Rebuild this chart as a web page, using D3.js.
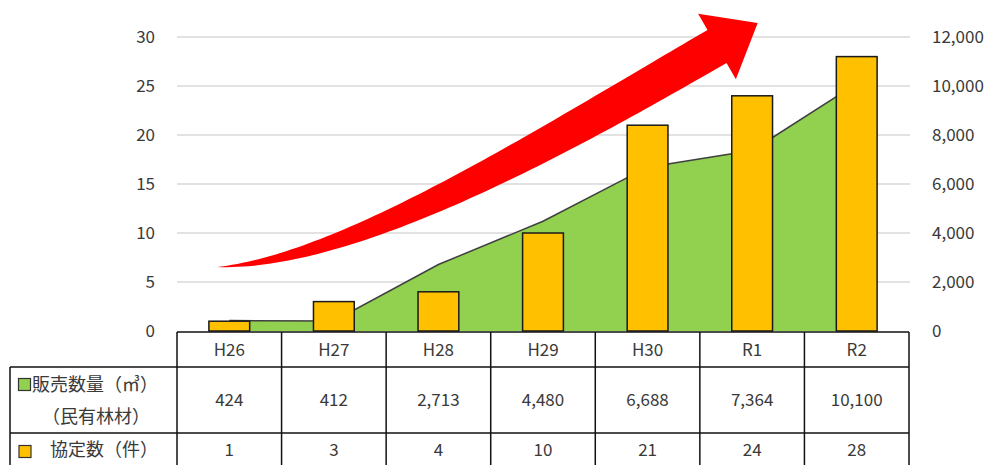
<!DOCTYPE html>
<html>
<head>
<meta charset="utf-8">
<script src="https://cdn.jsdelivr.net/npm/d3@7"></script>
<style>
  html, body { margin: 0; padding: 0; background: #fff; }
  svg { display: block; font-family: 'Noto Sans CJK JP', 'Noto Sans', sans-serif; }
</style>
</head>
<body>
<svg id="chart" width="995" height="465"></svg>
<script>
// ---- data ----
const categories = ["H26", "H27", "H28", "H29", "H30", "R1", "R2"];
const salesVolume = [424, 412, 2713, 4480, 6688, 7364, 10100];   // 販売数量（㎥）(民有林材) – right axis
const agreements = [1, 3, 4, 10, 21, 24, 28];                     // 協定数（件） – left axis
const leftTicks = [0, 5, 10, 15, 20, 25, 30];
const rightTicks = [0, 2000, 4000, 6000, 8000, 10000, 12000];
const salesLabelLines = ["販売数量（㎥）", "（民有林材）"];
const agreementLabel = "協定数（件）";

// ---- layout ----
const W = 995, H = 465;
const plotLeft = 177, plotRight = 909;
const plotTop = 37, plotBottom = 331;
const tableTop = 332, row1 = 367, row2 = 433, row3 = 499;
const labelColLeft = 10;
const textColor = "#3a3a3a";
const green = "#92D050", yellow = "#FFC000";

const svg = d3.select("#chart");

const x = d3.scaleBand().domain(categories).range([plotLeft, plotRight]).padding(0);
const yL = d3.scaleLinear().domain([0, 30]).range([plotBottom, plotTop]);
const yR = d3.scaleLinear().domain([0, 12000]).range([plotBottom, plotTop]);
const cx = c => x(c) + x.bandwidth() / 2;

// gridlines
svg.append("g").selectAll("line").data(leftTicks.filter(d => d > 0)).join("line")
  .attr("x1", plotLeft).attr("x2", plotRight + 1)
  .attr("y1", d => yL(d)).attr("y2", d => yL(d))
  .attr("stroke", "#d9d9d9").attr("stroke-width", 1.5);

// left axis labels
svg.append("g").selectAll("text").data(leftTicks).join("text")
  .attr("x", 155).attr("y", d => yL(d)).attr("dy", "0.36em")
  .attr("text-anchor", "end").attr("font-size", 17).attr("fill", textColor)
  .text(d => d);

// right axis labels
const fmt = d3.format(",");
svg.append("g").selectAll("text").data(rightTicks).join("text")
  .attr("x", 932).attr("y", d => yR(d)).attr("dy", "0.36em")
  .attr("text-anchor", "start").attr("font-size", 17).attr("fill", textColor)
  .text(d => fmt(d));

// area (sales volume)
const salesData = categories.map((c, i) => ({ c, v: salesVolume[i] }));
svg.append("path").datum(salesData)
  .attr("d", d3.area().x(d => cx(d.c)).y0(yR(0)).y1(d => yR(d.v)))
  .attr("fill", green);
svg.append("path").datum(salesData)
  .attr("d", d3.line().x(d => cx(d.c)).y(d => yR(d.v)))
  .attr("fill", "none").attr("stroke", "#404040").attr("stroke-width", 1.5);

// bars (agreements)
const bw = x.bandwidth() * 0.39;
svg.append("g").selectAll("rect").data(categories).join("rect")
  .attr("x", c => cx(c) - bw / 2)
  .attr("y", (c, i) => yL(agreements[i]))
  .attr("width", bw)
  .attr("height", (c, i) => yL(0) - yL(agreements[i]))
  .attr("fill", yellow).attr("stroke", "#1a1a1a").attr("stroke-width", 1.5);

// ---- red curved arrow (decoration) ----
(function () {
  const P0 = [217, 267], P1 = [350, 262], P2 = [557, 139], P3 = [717, 46.5];
  const bez = t => {
    const u = 1 - t;
    return [
      u*u*u*P0[0] + 3*u*u*t*P1[0] + 3*u*t*t*P2[0] + t*t*t*P3[0],
      u*u*u*P0[1] + 3*u*u*t*P1[1] + 3*u*t*t*P2[1] + t*t*t*P3[1]
    ];
  };
  const der = t => {
    const u = 1 - t;
    return [
      3*u*u*(P1[0]-P0[0]) + 6*u*t*(P2[0]-P1[0]) + 3*t*t*(P3[0]-P2[0]),
      3*u*u*(P1[1]-P0[1]) + 6*u*t*(P2[1]-P1[1]) + 3*t*t*(P3[1]-P2[1])
    ];
  };
  const maxW = 38;
  const up = [], lo = [];
  const N = 80;
  for (let i = 0; i <= N; i++) {
    const t = i / N;
    const p = bez(t), d = der(t);
    const len = Math.hypot(d[0], d[1]);
    const nx = d[1] / len, ny = -d[0] / len; // left normal (upwards)
    const hw = maxW / 2 * Math.sin(Math.PI * t / 2);
    up.push([p[0] + nx * hw, p[1] + ny * hw]);
    lo.push([p[0] - nx * hw, p[1] - ny * hw]);
  }
  const dEnd = der(1), L = Math.hypot(dEnd[0], dEnd[1]);
  const tx = dEnd[0] / L, ty = dEnd[1] / L;
  const nx = ty, ny = -tx;
  const headHalf = 37.7, headLen = 47;
  const barbUp = [P3[0] + nx * headHalf, P3[1] + ny * headHalf];
  const barbLo = [P3[0] - nx * headHalf, P3[1] - ny * headHalf];
  const tip = [P3[0] + tx * headLen, P3[1] + ty * headLen];
  const pts = up.concat([barbUp, tip, barbLo]).concat(lo.slice().reverse());
  svg.append("path")
    .attr("d", "M" + pts.map(p => p[0].toFixed(2) + "," + p[1].toFixed(2)).join("L") + "Z")
    .attr("fill", "#FF0000");
})();

// ---- data table ----
const tbl = svg.append("g").attr("stroke", "#111").attr("stroke-width", 1.5).attr("fill", "none");
// horizontal lines
tbl.append("line").attr("x1", plotLeft).attr("x2", plotRight).attr("y1", tableTop).attr("y2", tableTop);
tbl.append("line").attr("x1", labelColLeft).attr("x2", plotRight).attr("y1", row1).attr("y2", row1);
tbl.append("line").attr("x1", labelColLeft).attr("x2", plotRight).attr("y1", row2).attr("y2", row2);
// vertical lines
const vx = categories.map(c => x(c)).concat([plotRight]);
tbl.selectAll("line.v").data(vx).join("line").attr("class", "v")
  .attr("x1", d => d).attr("x2", d => d).attr("y1", tableTop).attr("y2", H + 2);
tbl.append("line").attr("x1", labelColLeft).attr("x2", labelColLeft).attr("y1", row1).attr("y2", H + 2);

// header texts
svg.append("g").selectAll("text").data(categories).join("text")
  .attr("x", c => cx(c)).attr("y", (tableTop + row1) / 2).attr("dy", "0.36em")
  .attr("text-anchor", "middle").attr("font-size", 17).attr("fill", textColor)
  .text(c => c);
// sales row
svg.append("g").selectAll("text").data(categories).join("text")
  .attr("x", c => cx(c)).attr("y", (row1 + row2) / 2).attr("dy", "0.36em")
  .attr("text-anchor", "middle").attr("font-size", 17).attr("fill", textColor)
  .text((c, i) => fmt(salesVolume[i]));
// agreements row
svg.append("g").selectAll("text").data(categories).join("text")
  .attr("x", c => cx(c)).attr("y", 450).attr("dy", "0.36em")
  .attr("text-anchor", "middle").attr("font-size", 17).attr("fill", textColor)
  .text((c, i) => agreements[i]);

// row labels + legend swatches
svg.append("rect").attr("x", 18.5).attr("y", 378.5).attr("width", 12).attr("height", 12)
  .attr("fill", green).attr("stroke", "#333").attr("stroke-width", 1.2);
svg.append("text").attr("x", 32).attr("y", 385).attr("dy", "0.36em")
  .attr("font-size", 18).attr("fill", textColor).text(salesLabelLines[0]);
svg.append("text").attr("x", 42).attr("y", 417).attr("dy", "0.36em")
  .attr("font-size", 18).attr("fill", textColor).text(salesLabelLines[1]);
svg.append("rect").attr("x", 19).attr("y", 445.5).attr("width", 12).attr("height", 12)
  .attr("fill", yellow).attr("stroke", "#333").attr("stroke-width", 1.2);
svg.append("text").attr("x", 50).attr("y", 450).attr("dy", "0.36em")
  .attr("font-size", 18).attr("fill", textColor).text(agreementLabel);
</script>
</body>
</html>
